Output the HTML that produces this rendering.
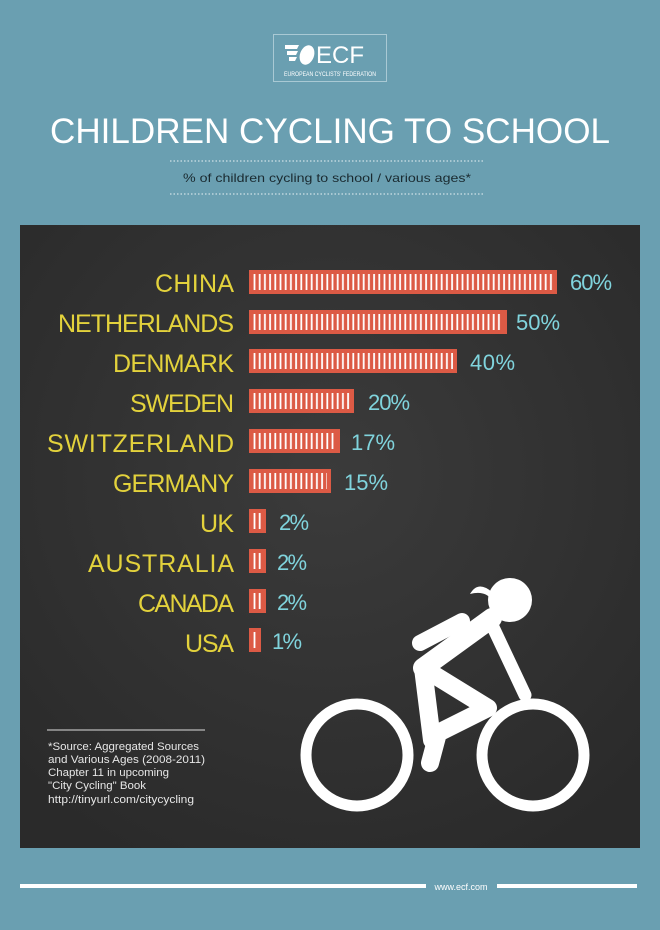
<!DOCTYPE html>
<html><head><meta charset="utf-8"><style>
html,body{margin:0;padding:0;background:#6a9fb1;}
svg{display:block}
</style></head><body>
<svg width="660" height="930" viewBox="0 0 660 930" xmlns="http://www.w3.org/2000/svg">
<defs>
<pattern id="st" x="252" y="0" width="5.2" height="930" patternUnits="userSpaceOnUse">
<rect x="1.6" y="0" width="1.8" height="930" fill="#fff"/>
</pattern>
<radialGradient id="bg" cx="50%" cy="40%" r="70%">
<stop offset="0" stop-color="#3b3b3b"/><stop offset="1" stop-color="#2a2a2a"/>
</radialGradient>
</defs>
<rect width="660" height="930" fill="#6a9fb1"/>
<!-- logo -->
<rect x="273.5" y="34.5" width="113" height="47" fill="none" stroke="#a9c9d4" stroke-width="1"/>
<path d="M285 45 h14 l-2 4 h-12z M287 51 h11 l-2 4 h-9z M289 57 h8 l-2 4 h-6z" fill="#fff"/>
<ellipse cx="307" cy="55" rx="7" ry="10" fill="#fff" transform="rotate(20 307 55)"/>
<text x="316" y="63" font-family="Liberation Sans, sans-serif" font-size="24" fill="#fff">ECF</text>
<text x="330" y="76" text-anchor="middle" font-family="Liberation Sans, sans-serif" font-size="6" fill="#fff" textLength="92" lengthAdjust="spacingAndGlyphs">EUROPEAN CYCLISTS' FEDERATION</text>
<!-- title -->
<text x="330" y="143" text-anchor="middle" font-family="Liberation Sans, sans-serif" font-size="35" fill="#fff" textLength="560" lengthAdjust="spacingAndGlyphs">CHILDREN CYCLING TO SCHOOL</text>
<line x1="170" y1="161" x2="485" y2="161" stroke="#cfe1e7" stroke-width="1.2" stroke-dasharray="1.5 2"/>
<line x1="170" y1="194" x2="485" y2="194" stroke="#cfe1e7" stroke-width="1.2" stroke-dasharray="1.5 2"/>
<text x="327" y="182" text-anchor="middle" font-family="Liberation Sans, sans-serif" font-size="12" fill="#1a2a30" textLength="288" lengthAdjust="spacingAndGlyphs">% of children cycling to school / various ages*</text>
<!-- board -->
<rect x="20" y="225" width="620" height="623" fill="url(#bg)"/>
<g font-family="Liberation Sans, sans-serif" font-size="25" fill="#e3d23c" text-anchor="end" lengthAdjust="spacing">
<text x="234" y="292" textLength="79">CHINA</text>
<text x="234" y="332" textLength="176">NETHERLANDS</text>
<text x="234" y="372" textLength="121">DENMARK</text>
<text x="234" y="412" textLength="104">SWEDEN</text>
<text x="234" y="452" textLength="187">SWITZERLAND</text>
<text x="234" y="492" textLength="121">GERMANY</text>
<text x="234" y="532" textLength="34">UK</text>
<text x="234" y="572" textLength="146">AUSTRALIA</text>
<text x="234" y="612" textLength="96">CANADA</text>
<text x="234" y="652" textLength="49">USA</text>
</g>
<g fill="#dc5a45">
<rect x="249" y="270" width="308" height="24"/>
<rect x="249" y="310" width="258" height="24"/>
<rect x="249" y="349" width="208" height="24"/>
<rect x="249" y="389" width="105" height="24"/>
<rect x="249" y="429" width="91" height="24"/>
<rect x="249" y="469" width="82" height="24"/>
<rect x="249" y="509" width="17" height="24"/>
<rect x="249" y="549" width="17" height="24"/>
<rect x="249" y="589" width="17" height="24"/>
<rect x="249" y="628" width="12" height="24"/>
</g>
<g fill="url(#st)">
<rect x="252" y="274" width="301" height="16"/>
<rect x="252" y="314" width="251" height="16"/>
<rect x="252" y="353" width="201" height="16"/>
<rect x="252" y="393" width="98" height="16"/>
<rect x="252" y="433" width="84" height="16"/>
<rect x="252" y="473" width="75" height="16"/>
<rect x="252" y="513" width="11" height="16"/>
<rect x="252" y="553" width="11" height="16"/>
<rect x="252" y="593" width="11" height="16"/>
<rect x="252" y="632" width="6" height="16"/>
</g>
<g font-family="Liberation Sans, sans-serif" font-size="22" fill="#80d4dd" lengthAdjust="spacing">
<text x="570" y="290" textLength="42">60%</text>
<text x="516" y="330" textLength="44">50%</text>
<text x="470" y="370" textLength="45">40%</text>
<text x="368" y="410" textLength="42">20%</text>
<text x="351" y="450" textLength="44">17%</text>
<text x="344" y="490" textLength="44">15%</text>
<text x="279" y="530" textLength="30">2%</text>
<text x="277" y="570" textLength="30">2%</text>
<text x="277" y="610" textLength="30">2%</text>
<text x="272" y="649" textLength="30">1%</text>
</g>
<!-- cyclist -->
<g fill="none" stroke="#fff" stroke-linecap="round" stroke-linejoin="round">
<circle cx="357" cy="755" r="51" stroke-width="11"/>
<circle cx="533" cy="755" r="51" stroke-width="11"/>
<line x1="420" y1="643" x2="462" y2="621" stroke-width="16"/>
<line x1="492" y1="618" x2="423" y2="668" stroke-width="20"/>
<line x1="492" y1="625" x2="525" y2="695" stroke-width="13"/>
<path d="M423 668 L488 708 L438 733 L430 763" stroke-width="18"/>
<path d="M423 668 L432 740" stroke-width="18"/>
</g>
<circle cx="510" cy="600" r="22" fill="#fff"/>
<path d="M492 592 Q478 580 470 594 Q485 590 492 600z" fill="#fff"/>
<!-- source -->
<line x1="47" y1="730" x2="205" y2="730" stroke="#ddd" stroke-width="1"/>
<g font-family="Liberation Sans, sans-serif" font-size="11" fill="#e6e6e6">
<text x="48" y="750" textLength="151" lengthAdjust="spacingAndGlyphs">*Source: Aggregated Sources</text>
<text x="48" y="763" textLength="157" lengthAdjust="spacingAndGlyphs">and Various Ages (2008-2011)</text>
<text x="48" y="776" textLength="121" lengthAdjust="spacingAndGlyphs">Chapter 11 in upcoming</text>
<text x="48" y="789" textLength="98" lengthAdjust="spacingAndGlyphs">"City Cycling" Book</text>
<text x="48" y="803" textLength="146" lengthAdjust="spacingAndGlyphs">http://tinyurl.com/citycycling</text>
</g>
<!-- footer -->
<rect x="20" y="884" width="406" height="4" fill="#fff"/>
<rect x="497" y="884" width="140" height="4" fill="#fff"/>
<text x="461" y="890" text-anchor="middle" font-family="Liberation Sans, sans-serif" font-size="9" fill="#fff">www.ecf.com</text>
</svg>
</body></html>
